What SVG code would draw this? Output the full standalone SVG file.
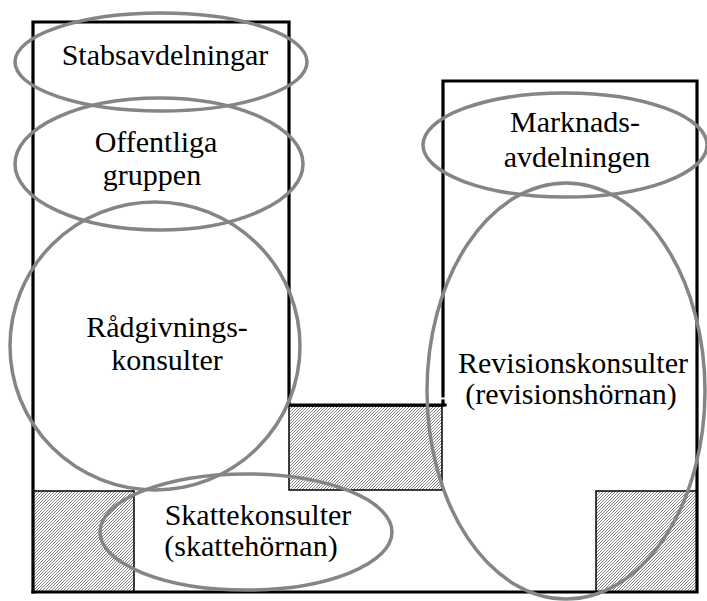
<svg xmlns="http://www.w3.org/2000/svg" width="707" height="601" viewBox="0 0 707 601">
  <defs>
    <pattern id="hatch" patternUnits="userSpaceOnUse" width="3" height="3">
      <rect width="3" height="3" fill="#ffffff"/>
      <path d="M-1,1 l2,-2 M0,3 l3,-3 M2,4 l2,-2" stroke="#555" stroke-width="0.75"/>
    </pattern>
  </defs>
  <style>
    .wall { fill: none; stroke: #000; stroke-width: 3.2; stroke-linecap: square; }
    .hatched { fill: url(#hatch); stroke: #000; stroke-width: 1.5; }
    .zone { fill: none; stroke: #858585; stroke-width: 3.5; }
    .label { font-family: "Liberation Serif", "Times New Roman", serif; font-size: 30px; fill: #000; text-anchor: middle; }
  </style>
  <rect width="707" height="601" fill="#ffffff"/>

  <g id="floorplan">
    <rect class="hatched" x="33" y="491" width="101" height="101"/>
    <rect class="hatched" x="289" y="406" width="153" height="84"/>
    <rect class="hatched" x="596" y="491" width="101" height="101"/>
    <path class="wall" d="M33,592 L33,22 L289,22 L289,405 L445,405"/>
    <path class="wall" d="M443,396 L443,81 L697,81 L697,592 L33,592"/>
    <path class="wall" d="M443,401 L443,405"/>
  </g>

  <g id="stabsavdelningar">
    <ellipse class="zone" cx="161" cy="62" rx="146" ry="49"/>
    <text class="label" x="165" y="65">Stabsavdelningar</text>
  </g>

  <g id="offentliga-gruppen">
    <ellipse class="zone" cx="159" cy="164" rx="144" ry="66"/>
    <text class="label" x="156" y="152">Offentliga</text>
    <text class="label" x="152" y="185">gruppen</text>
  </g>

  <g id="radgivningskonsulter">
    <ellipse class="zone" cx="155" cy="346" rx="145" ry="144"/>
    <text class="label" x="167" y="337">Rådgivnings-</text>
    <text class="label" x="167" y="370">konsulter</text>
  </g>

  <g id="marknadsavdelningen">
    <ellipse class="zone" cx="565" cy="145" rx="142" ry="52"/>
    <text class="label" x="575" y="132">Marknads-</text>
    <text class="label" x="577" y="167">avdelningen</text>
  </g>

  <g id="revisionskonsulter">
    <ellipse class="zone" cx="566" cy="391" rx="139" ry="208"/>
    <text class="label" x="573" y="373">Revisionskonsulter</text>
    <text class="label" x="571" y="404">(revisionshörnan)</text>
  </g>

  <g id="skattekonsulter">
    <ellipse class="zone" cx="246" cy="532" rx="146" ry="58"/>
    <text class="label" x="258" y="525">Skattekonsulter</text>
    <text class="label" x="251" y="556">(skattehörnan)</text>
  </g>

  <g id="connectors"/>
</svg>
